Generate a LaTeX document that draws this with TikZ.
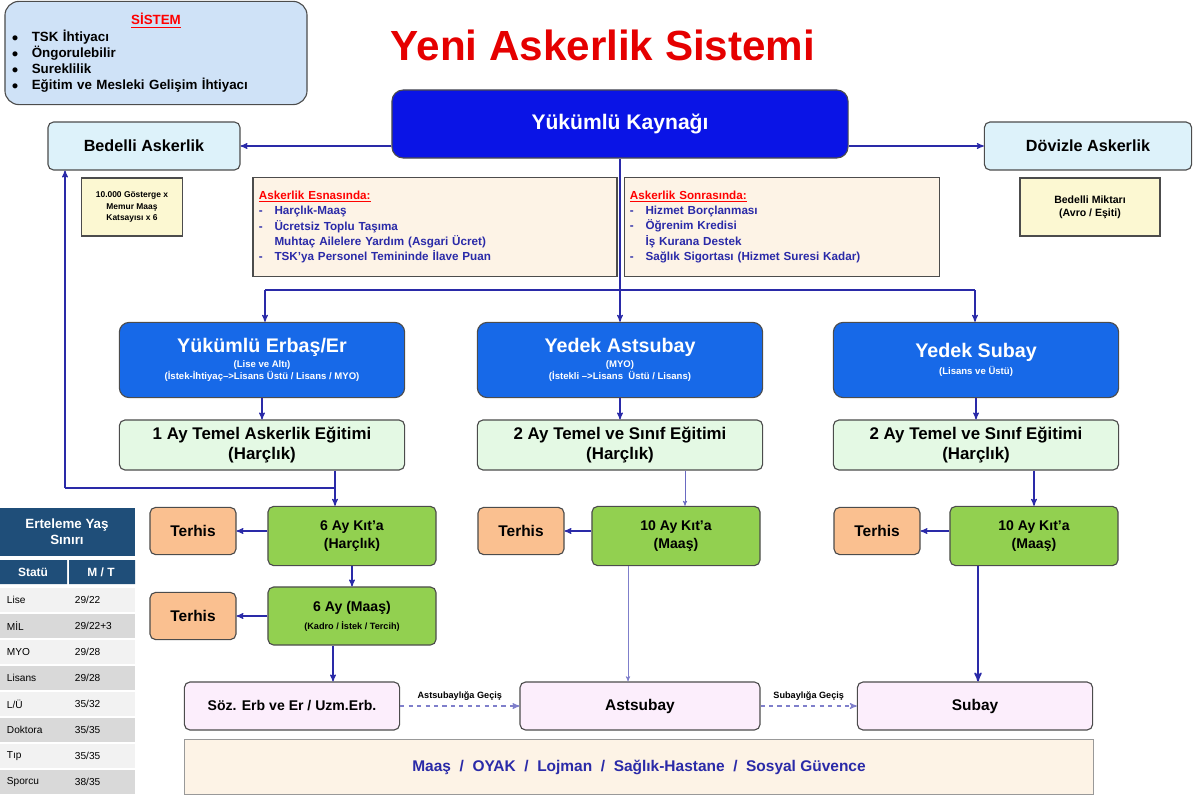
\documentclass[tikz,border=0pt]{standalone}
\usepackage{fontspec}
\setmainfont{Liberation Sans}
\usetikzlibrary{arrows,shapes,calc}
\definecolor{kaynak}{HTML}{0A14E6}
\definecolor{hat}{HTML}{2A2AA8}
\definecolor{mavi}{HTML}{1769E8}
\definecolor{acikyesil}{HTML}{E4F9E4}
\definecolor{yesil}{HTML}{92D050}
\definecolor{turuncu}{HTML}{FAC090}
\definecolor{pembe}{HTML}{FCEEFC}
\definecolor{krem}{HTML}{FDF3E6}
\definecolor{camgobek}{HTML}{DDF2FA}
\definecolor{sistem}{HTML}{CFE2F7}
\definecolor{sari}{HTML}{FCF8D2}
\definecolor{lacivert}{HTML}{1F4E79}
\tikzset{
  kutu/.style={draw=black!70,rounded corners=4pt,thick,align=center,font=\bfseries,inner sep=1pt},
  duz/.style={draw=black!70,thick,align=center,font=\bfseries,inner sep=2pt},
  ust/.style={kutu,fill=mavi,text=white,rounded corners=7pt,minimum width=7.13cm,minimum height=1.88cm,font=\bfseries\fontsize{6.8}{8.5}\selectfont},
  egitim/.style={kutu,fill=acikyesil,minimum width=7.13cm,minimum height=1.25cm,font=\bfseries\fontsize{12}{14.5}\selectfont},
  kita/.style={kutu,fill=yesil,minimum width=4.2cm,minimum height=1.48cm,font=\bfseries\fontsize{10}{13}\selectfont},
  ok/.style={->,>=stealth',hat,thick},
}
\newcommand{\basl}[1]{{\fontsize{14}{17}\selectfont #1}}
\begin{document}
\begin{tikzpicture}[x=0.025cm,y=-0.025cm]
\useasboundingbox (0,0) rectangle (1200,800);
%sistem
\node[kutu,fill=sistem,rounded corners=10pt,minimum width=7.55cm,minimum height=2.58cm,align=left,text width=7.2cm,font=\bfseries\fontsize{9.5}{11.5}\selectfont] (sis) at (156,53)
{\centering\textcolor{red}{\underline{SİSTEM}}\par\raggedright
$\bullet$\quad TSK İhtiyacı\\ $\bullet$\quad Öngorulebilir\\ $\bullet$\quad Sureklilik\\ $\bullet$\quad Eğitim ve Mesleki Gelişim İhtiyacı};
\node[font=\bfseries\fontsize{30}{34}\selectfont,text=red!90!black] (baslik) at (603,45) {Yeni Askerlik Sistemi};
%ust kutular
\node[kutu,fill=kaynak,text=white,rounded corners=8pt,minimum width=11.4cm,minimum height=1.7cm,font=\bfseries\fontsize{15}{18}\selectfont] (yk) at (620,124) {Yükümlü Kaynağı};
\node[kutu,fill=camgobek,minimum width=4.8cm,minimum height=1.2cm,font=\bfseries\fontsize{11.5}{14}\selectfont] (bed) at (144,146) {Bedelli Askerlik};
\node[kutu,fill=camgobek,minimum width=5.18cm,minimum height=1.2cm,font=\bfseries\fontsize{11.5}{14}\selectfont] (dov) at (1088,146) {Dövizle Askerlik};
\node[duz,fill=sari,minimum width=2.53cm,minimum height=1.45cm,font=\bfseries\fontsize{6}{8}\selectfont] (ybl) at (132,207) {10.000 Gösterge x\\ Memur Maaş\\ Katsayısı x 6};
\node[duz,fill=sari,minimum width=3.5cm,minimum height=1.45cm,font=\bfseries\fontsize{7.5}{9.5}\selectfont] (ybr) at (1090,207) {Bedelli Miktarı\\ (Avro / Eşiti)};
\node[duz,fill=krem,minimum width=9.1cm,minimum height=2.48cm,align=left,text width=8.8cm,font=\bfseries\fontsize{8.3}{11}\selectfont] (pl) at (435,227)
{\textcolor{red}{\underline{Askerlik Esnasında:}}\\ \color{hat}-\quad Harçlık-Maaş\\ -\quad Ücretsiz Toplu Taşıma\\ \phantom{-}\quad Muhtaç Ailelere Yardım (Asgari Ücret)\\ -\quad TSK'ya Personel Temininde İlave Puan};
\node[duz,fill=krem,minimum width=7.88cm,minimum height=2.48cm,align=left,text width=7.6cm,font=\bfseries\fontsize{8.3}{11}\selectfont] (pr) at (782,227)
{\textcolor{red}{\underline{Askerlik Sonrasında:}}\\ \color{hat}-\quad Hizmet Borçlanması\\ -\quad Öğrenim Kredisi\\ \phantom{-}\quad İş Kurana Destek\\ -\quad Sağlık Sigortası (Hizmet Suresi Kadar)};
%sutunlar
\node[ust] (ma) at (262,360) {\basl{Yükümlü Erbaş/Er}\\[2pt] (Lise ve Altı)\\ (İstek-İhtiyaç-->Lisans Üstü / Lisans / MYO)};
\node[ust] (mb) at (620,360) {\basl{Yedek Astsubay}\\[2pt] (MYO)\\ (İstekli -->Lisans\ \ Üstü / Lisans)};
\node[ust] (mc) at (976,360) {\basl{Yedek Subay}\\[2pt] (Lisans ve Üstü)};
\node[egitim] (ea) at (262,445) {1 Ay Temel Askerlik Eğitimi\\ (Harçlık)};
\node[egitim] (eb) at (620,445) {2 Ay Temel ve Sınıf Eğitimi\\ (Harçlık)};
\node[egitim] (ec) at (976,445) {2 Ay Temel ve Sınıf Eğitimi\\ (Harçlık)};
\node[kita] (ka) at (352,536) {6 Ay Kıt'a\\ (Harçlık)};
\node[kita,minimum height=1.45cm] (maa) at (352,616) {6 Ay (Maaş)\\ {\fontsize{6.5}{8}\selectfont (Kadro / İstek / Tercih)}};
\node[kita] (kb) at (676,536) {10 Ay Kıt'a\\ (Maaş)};
\node[kita] (kc) at (1034,536) {10 Ay Kıt'a\\ (Maaş)};
\foreach \ad/\x/\y in {ta/193/531,tm/193/616,tb/521/531,tc/877/531}{
\node[kutu,fill=turuncu,minimum width=2.15cm,minimum height=1.18cm,font=\bfseries\fontsize{11}{13}\selectfont] (\ad) at (\x,\y) {Terhis};
}
%alt
\node[kutu,fill=pembe,minimum width=5.38cm,minimum height=1.2cm,font=\bfseries\fontsize{10}{12}\selectfont] (soz) at (292,706) {Söz. Erb ve Er / Uzm.Erb.};
\node[kutu,fill=pembe,minimum width=6cm,minimum height=1.2cm,font=\bfseries\fontsize{11}{13}\selectfont] (ast) at (640,706) {Astsubay};
\node[kutu,fill=pembe,minimum width=5.88cm,minimum height=1.2cm,font=\bfseries\fontsize{11}{13}\selectfont] (sub) at (975,706) {Subay};
\node[duz,fill=krem,draw=black!40,minimum width=22.7cm,minimum height=1.38cm,text=hat,font=\bfseries\fontsize{11}{13}\selectfont] (bar) at (639,767)
{Maaş \ / \ OYAK \ / \ Lojman \ / \ Sağlık-Hastane \ / \ Sosyal Güvence};
%baglantilar
\coordinate (dag) at (620,290);
\coordinate (sol) at (265,290);
\coordinate (sag) at (975,290);
\coordinate (don) at (335,488);
\coordinate (geri) at (65,488);
\coordinate (x1) at (685,0);
\coordinate (x2) at (333,0);
\coordinate (x3) at (628,0);
\coordinate (x4) at (978,0);
\draw[ok] (yk.west|-bed.east) -- (bed.east);
\draw[ok] (yk.east|-dov.west) -- (dov.west);
\draw[ok] (yk.south-|dag) -- (mb.north);
\draw[hat,thick] (sol) -- (sag);
\draw[ok] (sol) -- (ma.north-|sol);
\draw[ok] (sag) -- (mc.north-|sag);
\foreach \s in {a,b,c}{\draw[ok] (m\s) -- (e\s);}
\draw[hat,thick] (ea.south-|don) -- (don) -- (geri);
\draw[ok] (geri) -- (bed.south-|geri);
\draw[ok] (don) -- (ka.north-|don);
\draw[ok,thin,hat!70] (eb.south-|x1) -- (kb.north-|x1);
\draw[ok] (ec.south-|kc) -- (kc);
\draw[ok] (ka) -- (maa);
\draw[ok] (ka.west|-ta) -- (ta);
\draw[ok] (maa) -- (tm);
\draw[ok] (kb.west|-tb) -- (tb);
\draw[ok] (kc.west|-tc) -- (tc);
\draw[ok] (maa.south-|x2) -- (soz.north-|x2);
\draw[ok,thin,hat!60] (kb.south-|x3) -- (ast.north-|x3);
\draw[ok,very thick] (kc.south-|x4) -- (sub.north-|x4);
\draw[ok,dashed,hat!60] (soz) -- node[above,black,font=\bfseries\fontsize{6.5}{8}\selectfont]{Astsubaylığa Geçiş} (ast);
\draw[ok,dashed,hat!60] (ast) -- node[above,black,font=\bfseries\fontsize{6.5}{8}\selectfont]{Subaylığa Geçiş} (sub);
%erteleme tablosu
\fill[lacivert] (0,508) rectangle (135,556);
\node[text=white,font=\bfseries\fontsize{9.5}{11.5}\selectfont,align=center] (ert) at (67,532) {Erteleme Yaş\\ Sınırı};
\fill[lacivert] (0,560) rectangle (67,584) (69,560) rectangle (135,584);
\node[text=white,font=\bfseries\fontsize{8.5}{10}\selectfont] (sta) at (33,572) {Statü};
\node[text=white,font=\bfseries\fontsize{8.5}{10}\selectfont] (mt) at (101,572) {M / T};
\foreach \st/\yas [count=\i from 0] in {Lise/29\slash 22,MİL/29\slash 22+3,MYO/29\slash 28,Lisans/29\slash 28,L\slash Ü/35\slash 32,Doktora/35\slash 35,Tıp/35\slash 35,Sporcu/38\slash 35}{
\pgfmathsetmacro{\yy}{588+26*\i}
\ifodd\i \fill[black!15] (0,\yy) rectangle (135,\yy+24); \else \fill[black!5] (0,\yy) rectangle (135,\yy+24); \fi
\node[anchor=west,font=\fontsize{7.2}{8.5}\selectfont] at (2,\yy+12) {\st};
\node[anchor=west,font=\fontsize{7.2}{8.5}\selectfont] at (70,\yy+12) {\yas};
}
\end{tikzpicture}
\end{document}
